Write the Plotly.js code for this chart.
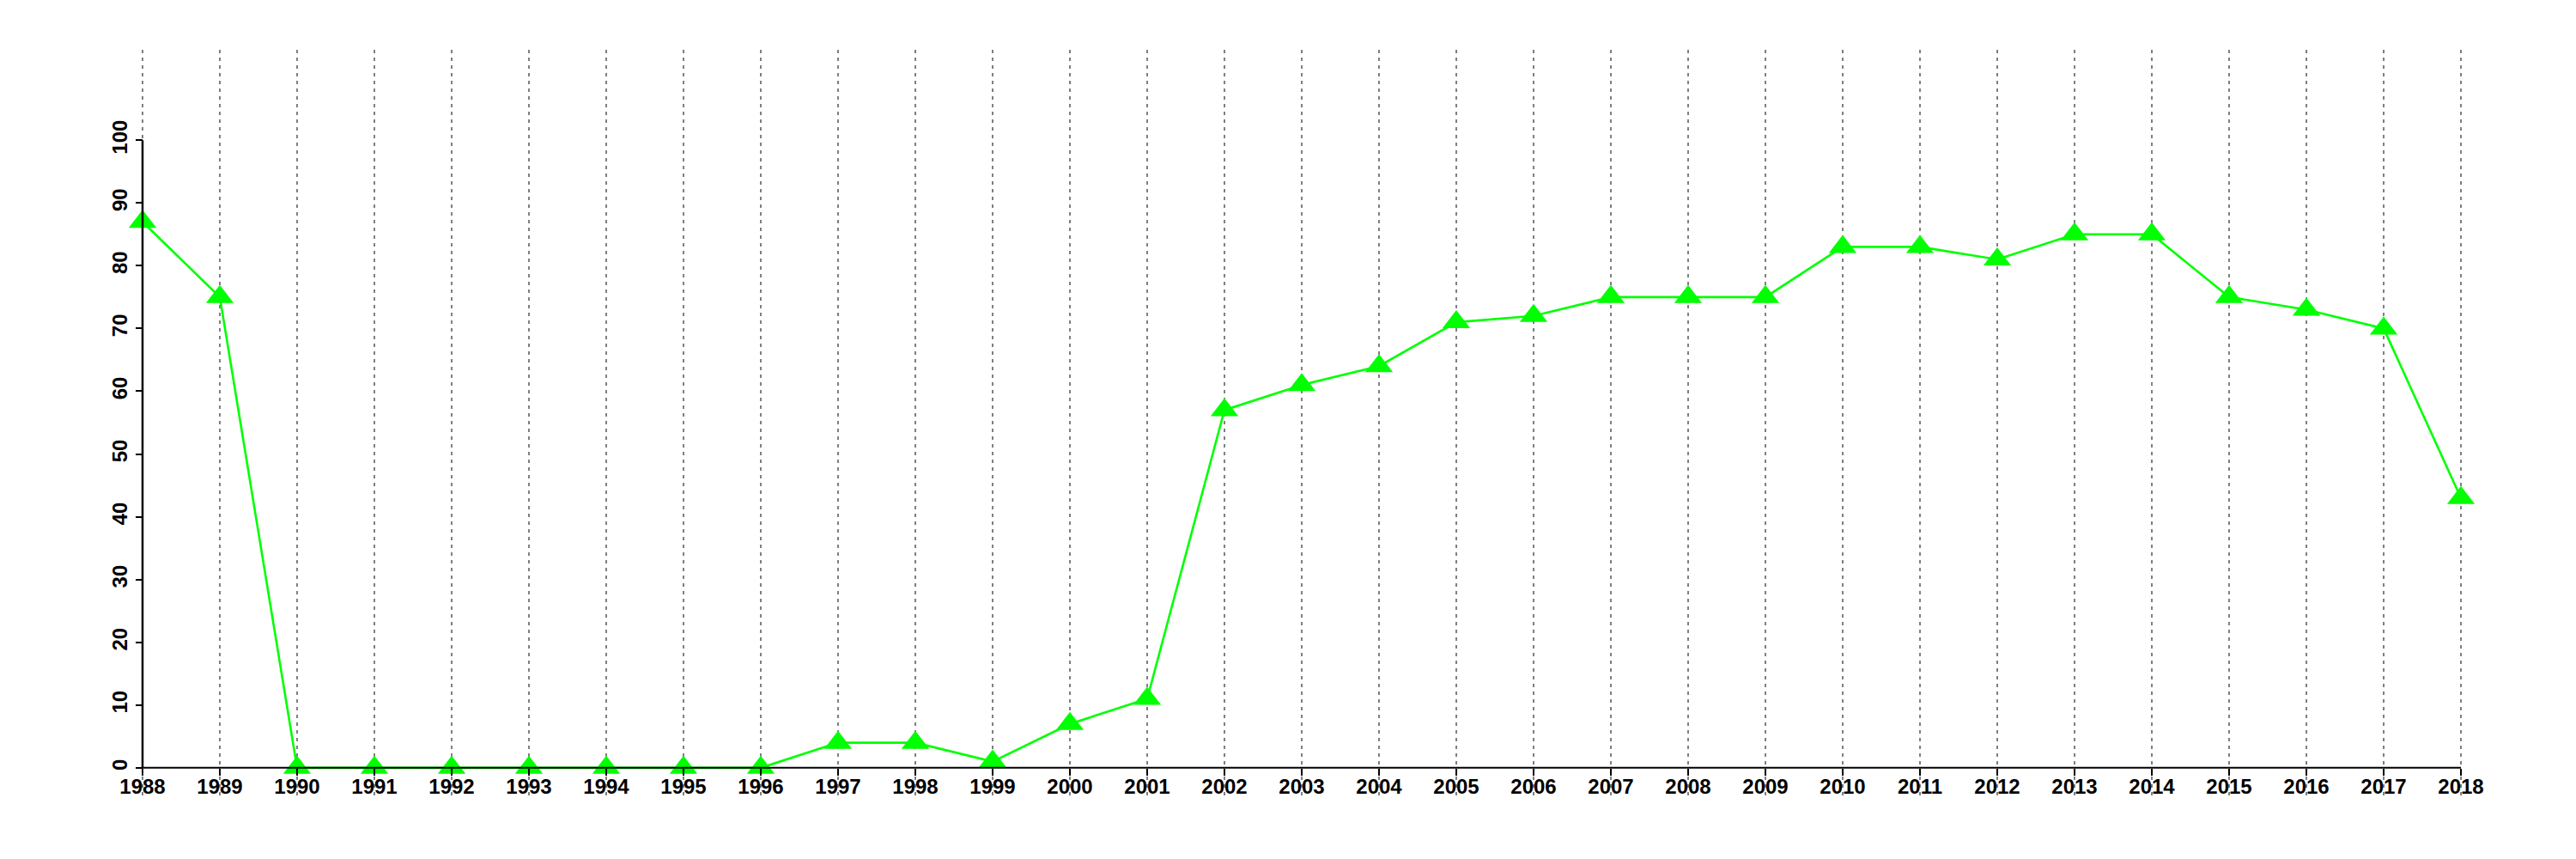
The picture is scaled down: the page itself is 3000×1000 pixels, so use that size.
<!DOCTYPE html>
<html>
<head>
<meta charset="utf-8">
<script src="https://cdn.plot.ly/plotly-3.0.1.min.js"></script>
<style>html,body{margin:0;padding:0;background:#fff;}#chart{width:3000px;height:1000px;}</style>
</head>
<body>
<div id="chart"></div>
<script>
const years = [1988,1989,1990,1991,1992,1993,1994,1995,1996,1997,1998,1999,2000,2001,2002,2003,2004,2005,2006,2007,2008,2009,2010,2011,2012,2013,2014,2015,2016,2017,2018];
const values = [87,75,0,0,0,0,0,0,0,4,4,1,7,11,57,61,64,71,72,75,75,75,83,83,81,85,85,75,73,70,43];
const yTicks = [0,10,20,30,40,50,60,70,80,90,100];
const yLimits = [0,110];

const xMin = years[0], xMax = years[years.length-1];
const xPad = (xMax - xMin) * 0.04;
const yPad = (yLimits[1] - yLimits[0]) * 0.04;
const xRange = [xMin - xPad, xMax + xPad];
const yRange = [yLimits[0] - yPad, yLimits[1] + yPad];

const tickFont = {family: 'Liberation Sans, Arial, sans-serif', size: 24, color: '#000', weight: 'bold'};

const trace = {
  x: years, y: values, type: 'scatter', mode: 'lines+markers',
  line: {color: '#00ff00', width: 2.6},
  marker: {symbol: 'triangle-up', size: 28, color: '#00ff00', line: {width: 0}},
  hoverinfo: 'skip', showlegend: false
};

const layout = {
  width: 3000, height: 1000,
  margin: {l: 58, r: 26, t: 58, b: 74},
  paper_bgcolor: '#fff', plot_bgcolor: '#fff',
  xaxis: {
    range: xRange, tickmode: 'array', tickvals: years, ticktext: years.map(String),
    showgrid: true, gridcolor: '#7f7f7f', gridwidth: 2, griddash: '4px,5px',
    zeroline: false, showline: false,
    ticks: 'outside', ticklen: 8, tickwidth: 2, tickcolor: '#000',
    ticklabelstandoff: -8,
    tickfont: tickFont,
    anchor: 'free', position: (0 - yRange[0]) / (yRange[1] - yRange[0])
  },
  yaxis: {
    range: yRange, tickmode: 'array', tickvals: yTicks, ticktext: yTicks.map(String),
    showgrid: false, zeroline: false, showline: false,
    ticks: 'outside', ticklen: 8, tickwidth: 2, tickcolor: '#000',
    tickangle: -90, ticklabelstandoff: 0,
    tickfont: tickFont,
    anchor: 'free', position: (xMin - xRange[0]) / (xRange[1] - xRange[0])
  },
  shapes: [
    {type: 'line', xref: 'x', yref: 'y', x0: xMin, x1: xMax, y0: yTicks[0], y1: yTicks[0], line: {color: '#000', width: 2}, layer: 'above'},
    {type: 'line', xref: 'x', yref: 'y', x0: xMin, x1: xMin, y0: yTicks[0], y1: yTicks[yTicks.length-1], line: {color: '#000', width: 2.5}, layer: 'above'}
  ]
};

Plotly.newPlot('chart', [trace], layout, {staticPlot: true, displayModeBar: false});
</script>
</body>
</html>
